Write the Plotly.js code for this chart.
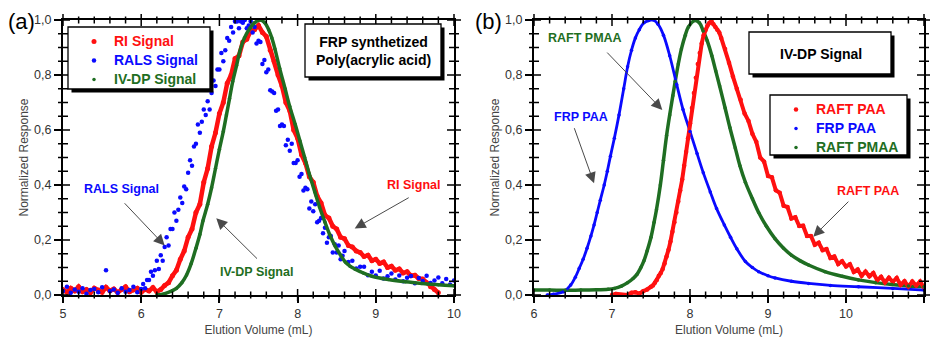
<!DOCTYPE html>
<html><head><meta charset="utf-8">
<script src="https://cdn.plot.ly/plotly-3.0.1.min.js"></script>
<style>html,body{margin:0;padding:0;background:#fff;}#chart{width:930px;height:337px;}</style>
</head><body><div id="chart"></div>
<script>
// ---------------- Panel (a) data ----------------
const RI_x = [5.00,5.05,5.10,5.15,5.20,5.25,5.30,5.35,5.40,5.45,5.50,5.55,5.60,5.65,5.70,5.75,5.80,5.85,5.90,5.95,
6.00,6.05,6.10,6.15,6.20,6.25,6.30,6.35,6.40,6.45,6.50,6.55,6.60,6.65,6.70,6.75,6.80,6.85,6.90,6.95,
7.00,7.05,7.10,7.15,7.20,7.25,7.30,7.35,7.40,7.45,7.50,7.55,7.60,7.65,7.70,7.75,7.80,7.85,7.90,7.95,
8.00,8.05,8.10,8.15,8.20,8.25,8.30,8.35,8.40,8.45,8.50,8.55,8.60,8.65,8.70,8.75,8.80,8.85,8.90,8.95,
9.00,9.05,9.10,9.15,9.20,9.25,9.30,9.35,9.40,9.45,9.50,9.55,9.60,9.65,9.70,9.75,9.80];
const RI_y = [0.02,0.01,0.025,0.015,0.03,0.012,0.02,0.008,0.025,0.018,0.01,0.028,0.015,0.022,0.009,0.02,0.03,0.012,0.018,0.025,
0.01,0.02,0.015,0.027,0.012,0.02,0.035,0.045,0.07,0.09,0.13,0.16,0.21,0.24,0.30,0.33,0.41,0.46,0.54,0.59,
0.66,0.70,0.77,0.80,0.86,0.87,0.92,0.93,0.96,0.965,0.98,0.955,0.94,0.89,0.85,0.80,0.76,0.70,0.67,0.60,
0.57,0.51,0.48,0.43,0.41,0.36,0.335,0.29,0.28,0.25,0.24,0.21,0.205,0.18,0.175,0.16,0.155,0.14,0.145,0.125,
0.13,0.115,0.12,0.10,0.105,0.09,0.095,0.08,0.085,0.07,0.072,0.06,0.058,0.045,0.03,0.02,0.008];

const RALS_x = [5.00,5.05,5.10,5.15,5.20,5.25,5.30,5.35,5.40,5.45,5.50,5.55,5.60,5.65,5.70,5.75,5.80,5.85,5.90,5.95,6.00,
6.025,6.05,6.075,6.10,6.125,6.15,6.175,6.20,6.225,6.25,6.275,6.30,
6.325,6.35,6.375,6.40,6.425,6.45,6.475,6.50,6.525,6.55,6.575,6.60,
6.625,6.65,6.675,6.70,6.725,6.75,6.775,6.80,6.825,6.85,6.875,6.90,
6.925,6.95,6.975,7.00,7.025,7.05,7.075,7.10,7.125,7.15,7.175,7.20,
7.225,7.25,7.275,7.30,7.325,7.35,7.375,7.40,7.425,7.45,7.475,7.50,
7.525,7.55,7.575,7.60,7.625,7.65,7.675,7.70,7.725,7.75,7.775,7.80,
7.825,7.85,7.875,7.90,7.925,7.95,7.975,8.00,8.025,8.05,8.075,8.10,
8.125,8.15,8.175,8.20,8.225,8.25,8.275,8.30,8.325,8.35,8.375,8.40,
8.425,8.45,8.475,8.50,8.525,8.55,8.575,8.60,
8.65,8.70,8.75,8.80,8.85,8.90,8.95,9.00,9.05,9.10,9.15,9.20,9.25,9.30,9.35,9.40,9.45,9.50,9.55,9.60,9.65,9.70,9.75,9.80,9.85,9.90,9.95,10.00];
const RALS_y = [0.015,0.03,0.008,0.02,0.012,0.025,0.005,0.018,0.022,0.01,0.028,0.09,0.015,0.02,0.008,0.025,0.012,0.018,0.03,0.01,0.022,
0.04,0.025,0.055,0.055,0.085,0.07,0.09,0.125,0.095,0.145,0.125,0.175,
0.21,0.18,0.24,0.24,0.30,0.27,0.31,0.355,0.335,0.395,0.385,0.445,
0.49,0.47,0.54,0.55,0.62,0.59,0.63,0.675,0.655,0.705,0.675,0.735,
0.78,0.76,0.82,0.82,0.88,0.85,0.89,0.935,0.925,0.975,0.955,0.995,
0.995,0.97,0.995,0.99,1.0,0.97,0.98,0.995,0.955,0.975,0.915,0.925,
0.92,0.84,0.855,0.81,0.82,0.745,0.74,0.735,0.67,0.675,0.615,0.62,
0.615,0.545,0.565,0.525,0.55,0.48,0.48,0.49,0.43,0.44,0.38,0.39,
0.385,0.315,0.34,0.305,0.33,0.265,0.27,0.28,0.225,0.245,0.19,0.21,
0.215,0.155,0.185,0.155,0.18,0.13,0.143,0.16,
0.12,0.125,0.096,0.103,0.103,0.072,0.085,0.071,0.088,0.06,0.068,0.078,0.056,0.071,0.05,0.063,0.069,0.043,0.062,0.051,0.07,0.044,0.053,0.064,0.043,0.058,0.038,0.053];

const IVDP_x = [6.20,6.30,6.40,6.45,6.52,6.58,6.64,6.70,6.75,6.79,6.85,6.90,6.95,7.00,7.05,7.09,7.13,7.17,7.22,7.26,7.32,7.39,7.45,7.52,
7.58,7.63,7.67,7.71,7.77,7.84,7.90,7.97,8.03,8.09,8.15,8.22,8.28,8.35,8.41,8.48,8.55,8.61,8.67,8.73,8.84,8.95,9.16,9.38,9.59,9.80,10.00];
const IVDP_y = [0.0,0.005,0.016,0.024,0.045,0.073,0.115,0.17,0.22,0.27,0.33,0.39,0.46,0.53,0.595,0.655,0.715,0.776,0.835,0.885,0.935,0.97,0.99,1.0,
0.99,0.965,0.935,0.895,0.825,0.75,0.685,0.62,0.56,0.50,0.44,0.375,0.32,0.265,0.22,0.178,0.145,0.12,0.105,0.095,0.08,0.068,0.056,0.048,0.042,0.037,0.034];

// ---------------- Panel (b) data ----------------
const RAFTPAA_x = [7.00,7.05,7.20,7.25,7.30,7.35,7.40,7.45,7.50,7.525,7.55,7.575,7.60,7.625,7.65,7.675,7.70,7.725,7.75,7.775,
7.80,7.825,7.85,7.875,7.90,7.925,7.95,7.975,8.00,8.025,8.05,8.075,8.10,8.125,8.15,8.175,8.20,8.225,8.25,8.275,
8.30,8.325,8.35,8.375,8.40,8.45,8.50,8.55,8.60,8.65,8.70,8.75,8.80,8.85,8.90,8.95,9.00,9.05,9.10,9.15,
9.20,9.25,9.30,9.35,9.40,9.45,9.50,9.55,9.60,9.65,9.70,9.75,9.80,9.85,9.90,9.95,10.00,10.05,10.10,10.15,
10.20,10.25,10.30,10.35,10.40,10.45,10.50,10.55,10.60,10.65,10.70,10.75,10.80,10.85,10.90,10.95,11.00];
const RAFTPAA_y = [0.0,0.004,0.0,0.008,0.01,0.005,0.014,0.02,0.03,0.035,0.045,0.055,0.07,0.08,0.095,0.115,0.14,0.165,0.195,0.23,
0.265,0.30,0.34,0.38,0.42,0.47,0.52,0.57,0.625,0.68,0.735,0.79,0.84,0.88,0.915,0.945,0.965,0.98,0.99,0.995,
0.985,0.975,0.965,0.955,0.935,0.895,0.845,0.795,0.75,0.71,0.66,0.633,0.586,0.557,0.50,0.485,0.433,0.428,0.381,0.372,
0.325,0.32,0.278,0.283,0.251,0.252,0.215,0.215,0.183,0.19,0.163,0.167,0.135,0.14,0.113,0.123,0.104,0.112,0.084,0.093,
0.07,0.085,0.068,0.08,0.054,0.066,0.046,0.063,0.048,0.062,0.037,0.05,0.031,0.049,0.035,0.049,0.026];

const FRPPAA_x = [6.17,6.25,6.38,6.47,6.53,6.58,6.63,6.68,6.73,6.77,6.81,6.85,6.90,6.94,6.98,7.03,7.09,7.15,7.20,7.25,7.30,7.35,7.41,7.47,
7.53,7.59,7.66,7.74,7.83,7.91,8.00,8.09,8.17,8.26,8.34,8.44,8.52,8.60,8.71,8.80,8.88,9.00,9.09,9.30,9.52,9.80,10.16,10.60,11.00];
const FRPPAA_y = [0.0,0.003,0.012,0.036,0.065,0.097,0.13,0.17,0.215,0.255,0.30,0.345,0.40,0.45,0.505,0.57,0.655,0.75,0.83,0.89,0.935,0.965,0.99,0.998,
1.0,0.985,0.945,0.87,0.765,0.675,0.595,0.515,0.445,0.375,0.315,0.255,0.21,0.168,0.122,0.10,0.085,0.07,0.062,0.05,0.042,0.035,0.03,0.024,0.018];

const PMAA_x = [6.00,6.20,6.40,6.60,6.80,6.95,7.03,7.12,7.20,7.27,7.32,7.37,7.41,7.45,7.50,7.54,7.57,7.62,7.66,7.70,7.74,7.78,7.81,7.85,7.89,7.94,7.98,
8.06,8.12,8.17,8.22,8.28,8.33,8.38,8.45,8.51,8.58,8.64,8.71,8.80,8.88,8.98,9.09,9.20,9.30,9.41,9.52,9.73,9.95,10.16,10.38,10.59,10.80,11.00];
const PMAA_y = [0.018,0.018,0.017,0.018,0.019,0.021,0.024,0.032,0.045,0.06,0.075,0.10,0.125,0.16,0.21,0.265,0.31,0.40,0.49,0.58,0.655,0.725,0.776,0.84,0.895,0.945,0.975,
0.998,0.99,0.96,0.925,0.87,0.815,0.76,0.68,0.61,0.535,0.47,0.41,0.35,0.30,0.25,0.205,0.17,0.145,0.125,0.109,0.085,0.068,0.055,0.045,0.038,0.033,0.03];

// axis text
const X_TITLE = 'Elution Volume (mL)';
const Y_TITLE = 'Normalized Response';

// ---------------- styling ----------------
const RED = '#ff1010', BLUE = '#0a0aff', GREEN = '#1f6e22';
const FONT = 'Liberation Sans, Arial, sans-serif';
const W = 930, H = 337;
const px = v => v / W;
const py = v => 1 - v / H;
const legName = (txt, col) => '<span style="color:' + col + ';font-size:14px;font-weight:bold">' + txt + '</span>';

const traces = [
  // panel a
  {x: RI_x, y: RI_y, mode: 'lines', line: {color: RED, width: 4.5}, showlegend: false, hoverinfo: 'skip', xaxis: 'x', yaxis: 'y'},
  {x: RI_x, y: RI_y, mode: 'markers', marker: {color: RED, size: 5}, name: legName('RI Signal', RED), legend: 'legend', legendrank: 1, xaxis: 'x', yaxis: 'y'},
  {x: RALS_x, y: RALS_y, mode: 'markers', marker: {color: BLUE, size: 4.5}, name: legName('RALS Signal', BLUE), legend: 'legend', legendrank: 2, xaxis: 'x', yaxis: 'y'},
  {x: IVDP_x, y: IVDP_y, mode: 'lines', line: {color: GREEN, width: 3.5, shape: 'spline'}, showlegend: false, hoverinfo: 'skip', xaxis: 'x', yaxis: 'y'},
  {x: IVDP_x, y: IVDP_y, mode: 'markers', marker: {color: GREEN, size: 3.5}, name: legName('IV-DP Signal', GREEN), legend: 'legend', legendrank: 3, xaxis: 'x', yaxis: 'y'},
  // panel b
  {x: PMAA_x, y: PMAA_y, mode: 'lines', line: {color: GREEN, width: 3.5, shape: 'spline'}, showlegend: false, hoverinfo: 'skip', xaxis: 'x2', yaxis: 'y2'},
  {x: FRPPAA_x, y: FRPPAA_y, mode: 'lines', line: {color: BLUE, width: 2.8, shape: 'spline'}, showlegend: false, hoverinfo: 'skip', xaxis: 'x2', yaxis: 'y2'},
  {x: RAFTPAA_x, y: RAFTPAA_y, mode: 'lines', line: {color: RED, width: 4}, showlegend: false, hoverinfo: 'skip', xaxis: 'x2', yaxis: 'y2'},
  {x: RAFTPAA_x, y: RAFTPAA_y, mode: 'markers', marker: {color: RED, size: 4.5}, name: legName('RAFT PAA', RED), legend: 'legend2', legendrank: 1, xaxis: 'x2', yaxis: 'y2'},
  {x: FRPPAA_x, y: FRPPAA_y, mode: 'markers', marker: {color: BLUE, size: 3.5}, name: legName('FRP PAA', BLUE), legend: 'legend2', legendrank: 2, xaxis: 'x2', yaxis: 'y2'},
  {x: PMAA_x, y: PMAA_y, mode: 'markers', marker: {color: GREEN, size: 3.5}, name: legName('RAFT PMAA', GREEN), legend: 'legend2', legendrank: 3, xaxis: 'x2', yaxis: 'y2'}
];

const tickFont = {family: FONT, size: 12.5, color: '#333'};
const titleFont = {family: FONT, size: 12, color: '#444'};
const dA = [px(63), px(454)], dB = [px(534), px(924)], dY = [py(295), py(20)];
const RX_A = [5, 10], RX_B = [6, 11], RY = [0, 1];

function xMain(domain, range, anchor) {
  return {domain: domain, range: range, anchor: anchor, dtick: 1,
    showgrid: false, zeroline: false, showline: true, linecolor: '#000', linewidth: 2, mirror: true,
    ticks: 'outside', ticklen: 6, tickwidth: 1.5, tickcolor: '#000', tickfont: tickFont,
    title: {text: X_TITLE, font: titleFont}};
}
function yMain(domain, anchor) {
  return {domain: domain, range: RY, anchor: anchor, dtick: 0.2, tickformat: '.1f',
    showgrid: false, zeroline: false, showline: true, linecolor: '#000', linewidth: 2, mirror: true,
    ticks: 'outside', ticklen: 7, tickwidth: 1.5, tickcolor: '#000', tickfont: tickFont,
    title: {text: Y_TITLE, font: titleFont}};
}

const legFont = {family: FONT, size: 12, color: '#000'};
const layout = {
  width: W, height: H, margin: {l: 0, r: 0, t: 0, b: 0},
  paper_bgcolor: '#fff', plot_bgcolor: '#fff', separators: ',.',
  font: {family: FONT},
  xaxis: xMain(dA, RX_A, 'y'),
  yaxis: yMain(dY, 'x'),
  xaxis2: xMain(dB, RX_B, 'y2'),
  yaxis2: yMain(dY, 'x2'),
  legend: {x: px(74), y: py(27), xanchor: 'left', yanchor: 'top', bgcolor: 'rgba(0,0,0,0)', borderwidth: 0, font: legFont, tracegroupgap: 0},
  legend2: {x: px(776), y: py(95), xanchor: 'left', yanchor: 'top', bgcolor: 'rgba(0,0,0,0)', borderwidth: 0, font: legFont, tracegroupgap: 0},
  shapes: [],
  annotations: []
};

// crossing frame tick marks (major + minor) on all four sides, mapped from each axis' domain and range
function frameTicks(dx, rx, dy, ry) {
  const toPX = v => dx[0] + (v - rx[0]) / (rx[1] - rx[0]) * (dx[1] - dx[0]);
  const toPY = v => dy[0] + (v - ry[0]) / (ry[1] - ry[0]) * (dy[1] - dy[0]);
  for (let i = 0; i <= 25; i++) {
    const xp = toPX(rx[0] + i * 0.2);
    const L = ((i % 5 === 0) ? 6 : 3.5) / H;
    dy.forEach(yp => layout.shapes.push({type: 'line', xref: 'paper', yref: 'paper', x0: xp, x1: xp,
      y0: yp - L, y1: yp + L, line: {color: '#000', width: 1.5}, layer: 'above'}));
  }
  for (let j = 0; j <= 20; j++) {
    const yp = toPY(ry[0] + j * 0.05);
    const L = ((j % 4 === 0) ? 7 : 5) / W;
    dx.forEach(xp => layout.shapes.push({type: 'line', xref: 'paper', yref: 'paper', y0: yp, y1: yp,
      x0: xp - L, x1: xp + L, line: {color: '#000', width: 1.5}, layer: 'above'}));
  }
}
frameTicks(dA, RX_A, dY, RY);
frameTicks(dB, RX_B, dY, RY);

function box(x0, y0, x1, y1) {
  layout.shapes.push({type: 'rect', xref: 'paper', yref: 'paper', x0: px(x0 + 3.5), x1: px(x1 + 3.5), y0: py(y1 + 3.5), y1: py(y0 + 3.5),
    fillcolor: '#000', line: {width: 0}, layer: 'above'});
  layout.shapes.push({type: 'rect', xref: 'paper', yref: 'paper', x0: px(x0), x1: px(x1), y0: py(y1), y1: py(y0),
    fillcolor: '#fff', line: {color: '#000', width: 1.3}, layer: 'above'});
}
box(68, 27, 210, 89);
box(305, 24, 441, 77);
box(749, 32, 891, 74);
box(770, 95, 907, 155);

const A = layout.annotations;
function label(xr, yr, x, y, text, color, size) {
  A.push({xref: xr, yref: yr, x: x, y: y, text: text, showarrow: false, xanchor: 'center', yanchor: 'middle',
    font: {family: FONT, size: size || 12.5, weight: 'bold', color: color}});
}
function arrow(xr, yr, x, y, ax, ay) {
  A.push({xref: xr, yref: yr, axref: xr, ayref: yr, x: x, y: y, ax: ax, ay: ay, text: '', showarrow: true,
    arrowhead: 2, arrowsize: 2.2, arrowwidth: 1, arrowcolor: '#4a4a4a', standoff: 0, startstandoff: 0});
}
A.push({xref: 'paper', yref: 'paper', x: px(21), y: py(21), text: '(a)', showarrow: false, xanchor: 'center', yanchor: 'middle', font: {family: FONT, size: 22, color: '#000'}});
A.push({xref: 'paper', yref: 'paper', x: px(489), y: py(21), text: '(b)', showarrow: false, xanchor: 'center', yanchor: 'middle', font: {family: FONT, size: 22, color: '#000'}});
label('paper', 'paper', px(373), py(50.5), 'FRP synthetized<br>Poly(acrylic acid)', '#000', 14);
label('paper', 'paper', px(821), py(54), 'IV-DP Signal', '#000', 14);
// panel a callouts
label('x', 'y', 5.75, 0.385, 'RALS Signal', BLUE);
arrow('x', 'y', 6.30, 0.18, 5.77, 0.339);
label('x', 'y', 7.48, 0.085, 'IV-DP Signal', GREEN);
arrow('x', 'y', 6.96, 0.279, 7.50, 0.127);
label('x', 'y', 9.48, 0.40, 'RI Signal', RED);
arrow('x', 'y', 8.73, 0.242, 9.44, 0.357);
// panel b callouts
label('x2', 'y2', 6.66, 0.933, 'RAFT PMAA', GREEN);
arrow('x2', 'y2', 7.645, 0.673, 6.92, 0.887);
label('x2', 'y2', 6.60, 0.648, 'FRP PAA', BLUE);
arrow('x2', 'y2', 6.77, 0.406, 6.51, 0.612);
label('x2', 'y2', 10.28, 0.379, 'RAFT PAA', RED);
arrow('x2', 'y2', 9.58, 0.212, 10.05, 0.345);

Plotly.newPlot('chart', traces, layout, {displayModeBar: false});
</script></body></html>
